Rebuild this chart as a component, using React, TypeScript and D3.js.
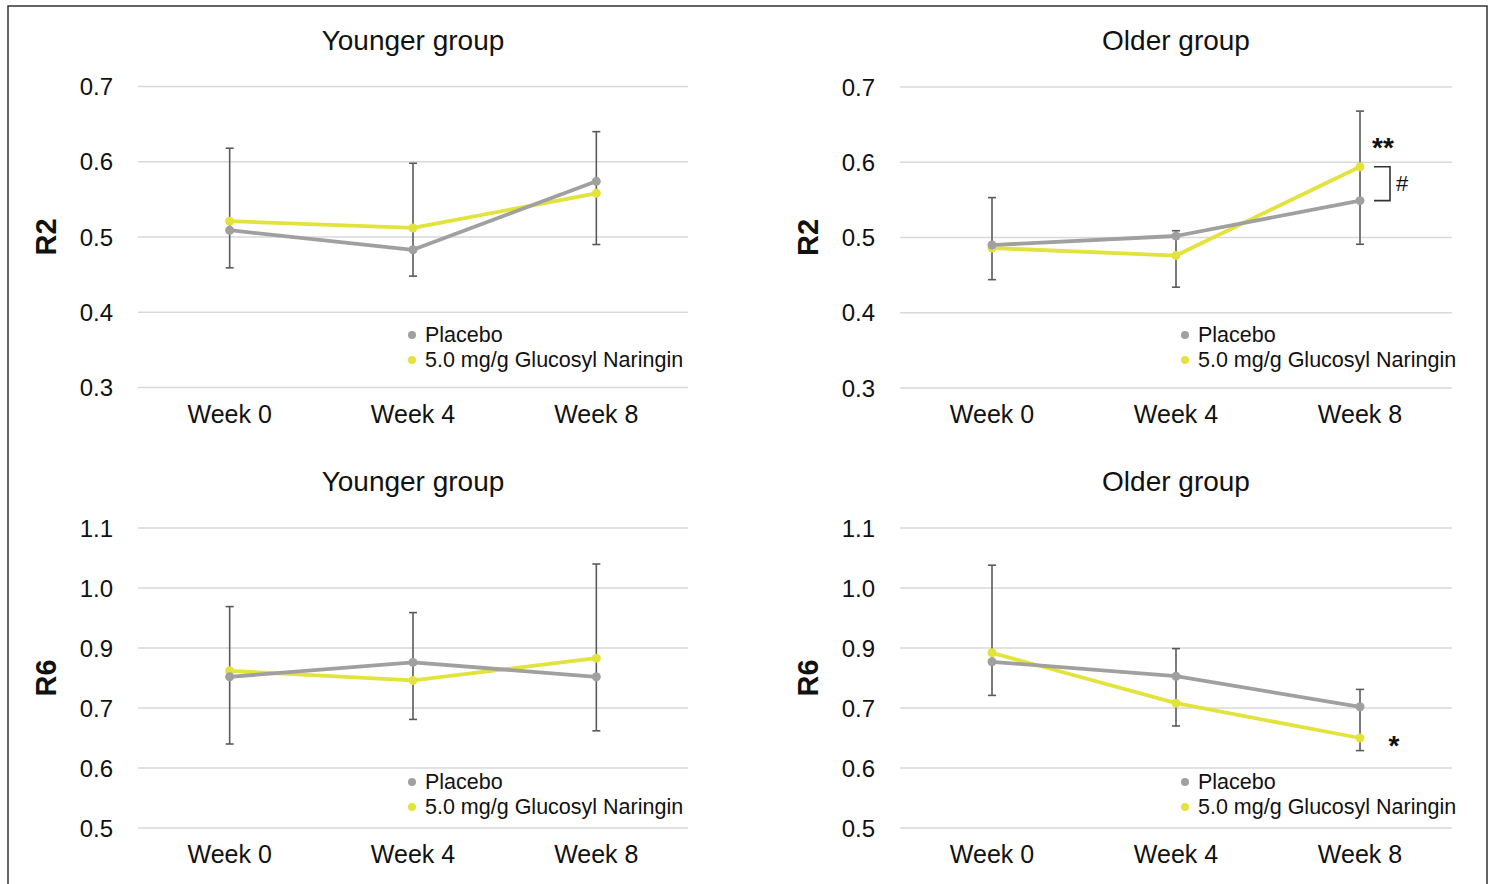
import React from "react";
import * as d3 from "d3";

// categories
const weeks = ["Week 0", "Week 4", "Week 8"];

// R2 values
const r2YoungPlacebo = [0.509, 0.483, 0.574];
const r2YoungNaringin = [0.521, 0.512, 0.558];
const r2YoungErrHigh = [0.618, 0.598, 0.64];
const r2YoungErrLow = [0.459, 0.448, 0.49];

const r2OldPlacebo = [0.49, 0.502, 0.549];
const r2OldNaringin = [0.486, 0.476, 0.594];
const r2OldErrHigh = [0.553, 0.509, 0.668];
const r2OldErrLow = [0.444, 0.434, 0.491];

// R6 values
const r6YoungPlacebo = [0.752, 0.776, 0.752];
const r6YoungNaringin = [0.762, 0.746, 0.783];
const r6YoungErrHigh = [0.869, 0.859, 0.94];
const r6YoungErrLow = [0.64, 0.681, 0.662];

const r6OldPlacebo = [0.777, 0.753, 0.702];
const r6OldNaringin = [0.792, 0.708, 0.65];
const r6OldErrHigh = [0.938, 0.799, 0.731];
const r6OldErrLow = [0.721, 0.67, 0.629];

// tick values / labels
const r2Ticks = [0.3, 0.4, 0.5, 0.6, 0.7];
const r2TickLabels = ["0.3", "0.4", "0.5", "0.6", "0.7"];
const r6Ticks = [0.5, 0.6, 0.7, 0.8, 0.9, 1.0];
const r6TickLabels = ["0.5", "0.6", "0.7", "0.9", "1.0", "1.1"];

const seriesNames = ["Placebo", "5.0 mg/g Glucosyl Naringin"];

const GRAY = "#a0a0a0";
const YELLOW = "#e2e33c";
const ERR = "#5a5a5a";
const GRID = "#d9d9d9";
const FONT = "'Liberation Sans', Arial, Helvetica, sans-serif";

type PanelProps = {
  title: string;
  yLabel: string;
  left: number;
  right: number;
  top: number;
  bottom: number;
  domain: [number, number];
  ticks: number[];
  tickLabels: string[];
  placebo: number[];
  naringin: number[];
  errHigh: number[];
  errLow: number[];
  legendX: number;
  legendY: number;
  annot?: "r2old" | "r6old";
};

const Panel = (p: PanelProps) => {
  const x = d3.scalePoint<string>().domain(weeks).range([p.left, p.right]).padding(0.5);
  const y = d3.scaleLinear().domain(p.domain).range([p.bottom, p.top]);
  const line = d3
    .line<number>()
    .x((d, i) => x(weeks[i]) as number)
    .y((d) => y(d));
  const cx = (p.left + p.right) / 2;
  const w8 = x(weeks[2]) as number;

  return (
    <g>
      <text x={cx} y={p.top - 37} textAnchor="middle" fontSize={28} fill="#111">
        {p.title}
      </text>
      <text
        transform={`translate(${p.left - 92},${(p.top + p.bottom) / 2}) rotate(-90)`}
        textAnchor="middle"
        dominantBaseline="central"
        fontSize={29}
        fontWeight="bold"
        fill="#111"
      >
        {p.yLabel}
      </text>
      {p.ticks.map((t, i) => (
        <g key={t}>
          <line x1={p.left} x2={p.right} y1={y(t)} y2={y(t)} stroke={GRID} strokeWidth={1.5} />
          <text
            x={p.left - 25}
            y={y(t)}
            textAnchor="end"
            dominantBaseline="central"
            fontSize={24}
            fill="#111"
          >
            {p.tickLabels[i]}
          </text>
        </g>
      ))}
      {weeks.map((w) => (
        <text key={w} x={x(w)} y={p.bottom + 35} textAnchor="middle" fontSize={25} fill="#111">
          {w}
        </text>
      ))}
      {/* error bars */}
      {weeks.map((w, i) => {
        const xx = x(w) as number;
        return (
          <g key={w} stroke={ERR} strokeWidth={1.6}>
            <line x1={xx} x2={xx} y1={y(p.errLow[i])} y2={y(p.errHigh[i])} />
            <line x1={xx - 4} x2={xx + 4} y1={y(p.errLow[i])} y2={y(p.errLow[i])} />
            <line x1={xx - 4} x2={xx + 4} y1={y(p.errHigh[i])} y2={y(p.errHigh[i])} />
          </g>
        );
      })}
      {/* series */}
      {[
        { v: p.naringin, c: YELLOW },
        { v: p.placebo, c: GRAY },
      ].map((s, k) => (
        <g key={k}>
          <path d={line(s.v) || ""} fill="none" stroke={s.c} strokeWidth={3.8} strokeLinejoin="round" />
          {s.v.map((d, i) => (
            <circle key={i} cx={x(weeks[i])} cy={y(d)} r={4.5} fill={s.c} />
          ))}
        </g>
      ))}
      {/* legend */}
      {seriesNames.map((n, i) => (
        <g key={n}>
          <circle cx={p.legendX} cy={p.legendY + i * 25} r={4} fill={i === 0 ? GRAY : YELLOW} />
          <text
            x={p.legendX + 13}
            y={p.legendY + i * 25}
            dominantBaseline="central"
            fontSize={21.5}
            fill="#111"
          >
            {n}
          </text>
        </g>
      ))}
      {p.annot === "r2old" && (
        <g>
          <text x={w8 + 23} y={y(0.623) + 12} textAnchor="middle" fontSize={28} fontWeight="bold" fill="#111">
            **
          </text>
          <path
            d={`M${w8 + 14},${y(p.naringin[2])}H${w8 + 30}V${y(p.placebo[2])}H${w8 + 14}`}
            fill="none"
            stroke="#333"
            strokeWidth={1.6}
          />
          <text x={w8 + 42} y={y((p.naringin[2] + p.placebo[2]) / 2)} textAnchor="middle" dominantBaseline="central" fontSize={22} fill="#111">
            #
          </text>
        </g>
      )}
      {p.annot === "r6old" && (
        <text x={w8 + 34} y={y(p.naringin[2]) + 17} textAnchor="middle" fontSize={28} fontWeight="bold" fill="#111">
          *
        </text>
      )}
    </g>
  );
};

export default function App() {
  return (
    <svg
      width={1494}
      height={884}
      style={{ position: "absolute", left: 0, top: 0, background: "#fff", fontFamily: FONT }}
    >
      <rect x={8} y={6} width={1479} height={900} fill="#fff" stroke="#333" strokeWidth={1.5} />
      <Panel
        title="Younger group"
        yLabel="R2"
        left={138}
        right={688}
        top={86.5}
        bottom={387.5}
        domain={[0.3, 0.7]}
        ticks={r2Ticks}
        tickLabels={r2TickLabels}
        placebo={r2YoungPlacebo}
        naringin={r2YoungNaringin}
        errHigh={r2YoungErrHigh}
        errLow={r2YoungErrLow}
        legendX={412}
        legendY={335}
      />
      <Panel
        title="Older group"
        yLabel="R2"
        left={900}
        right={1452}
        top={87}
        bottom={388}
        domain={[0.3, 0.7]}
        ticks={r2Ticks}
        tickLabels={r2TickLabels}
        placebo={r2OldPlacebo}
        naringin={r2OldNaringin}
        errHigh={r2OldErrHigh}
        errLow={r2OldErrLow}
        legendX={1185}
        legendY={335}
        annot="r2old"
      />
      <Panel
        title="Younger group"
        yLabel="R6"
        left={138}
        right={688}
        top={528}
        bottom={828}
        domain={[0.5, 1.0]}
        ticks={r6Ticks}
        tickLabels={r6TickLabels}
        placebo={r6YoungPlacebo}
        naringin={r6YoungNaringin}
        errHigh={r6YoungErrHigh}
        errLow={r6YoungErrLow}
        legendX={412}
        legendY={782}
      />
      <Panel
        title="Older group"
        yLabel="R6"
        left={900}
        right={1452}
        top={528}
        bottom={828}
        domain={[0.5, 1.0]}
        ticks={r6Ticks}
        tickLabels={r6TickLabels}
        placebo={r6OldPlacebo}
        naringin={r6OldNaringin}
        errHigh={r6OldErrHigh}
        errLow={r6OldErrLow}
        legendX={1185}
        legendY={782}
        annot="r6old"
      />
    </svg>
  );
}
